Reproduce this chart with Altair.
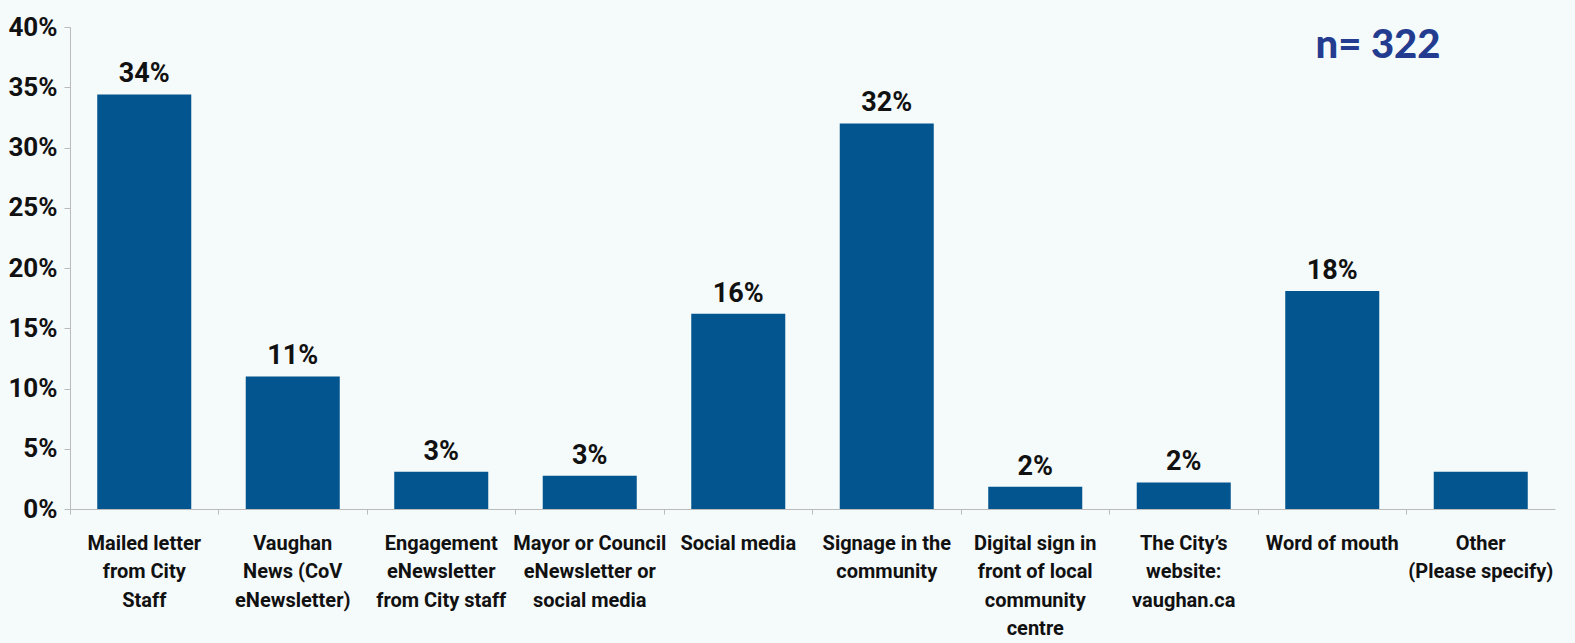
import altair as alt
import pandas as pd

categories = [
    "Mailed letter\nfrom City\nStaff",
    "Vaughan\nNews (CoV\neNewsletter)",
    "Engagement\neNewsletter\nfrom City staff",
    "Mayor or Council\neNewsletter or\nsocial media",
    "Social media",
    "Signage in the\ncommunity",
    "Digital sign in\nfront of local\ncommunity\ncentre",
    "The City\u2019s\nwebsite:\nvaughan.ca",
    "Word of mouth",
    "Other\n(Please specify)",
]
values = [34.4, 11.0, 3.1, 2.75, 16.2, 32.0, 1.85, 2.2, 18.1, 3.1]
value_labels = ["34%", "11%", "3%", "3%", "16%", "32%", "2%", "2%", "18%", ""]
y_ticks = [0, 5, 10, 15, 20, 25, 30, 35, 40]

df = pd.DataFrame({"cat": categories, "val": values, "lab": value_labels})

FONT = "Roboto"
BAR = "#02558F"
BG = "#F5FAFB"

x = alt.X(
    "cat:N",
    sort=categories,
    scale=alt.Scale(paddingInner=0, paddingOuter=0),
    axis=alt.Axis(
        title=None,
        labelAngle=0,
        labelExpr="split(datum.label, '\\n')",
        labelFont=FONT,
        labelFontSize=20,
        labelFontWeight="bold",
        labelColor="#111111",
        labelLineHeight=28.5,
        labelPadding=19,
        labelBaseline="top",
        bandPosition=0,
        tickSize=5,
        tickColor="#BBBBBB",
        domainColor="#BBBBBB",
        labelLimit=300,
    ),
)

y = alt.Y(
    "val:Q",
    scale=alt.Scale(domain=[0, 40], nice=False),
    axis=alt.Axis(
        title=None,
        values=y_ticks,
        labelExpr="datum.value + '%'",
        labelFont=FONT,
        labelFontSize=26,
        labelFontWeight="bold",
        labelColor="#111111",
        labelPadding=7,
        tickSize=6,
        tickColor="#BBBBBB",
        domainColor="#BBBBBB",
        grid=False,
    ),
)

bars = alt.Chart(df).mark_bar(color=BAR, width=alt.RelativeBandSize(0.633)).encode(x=x, y=y)

texts = alt.Chart(df).mark_text(
    font=FONT, fontSize=27, fontWeight="bold", color="#111111", baseline="bottom", dy=-6
).encode(x=alt.X("cat:N", sort=categories), y="val:Q", text="lab:N")

n_text = alt.Chart(pd.DataFrame({"t": ["n= 322"]})).mark_text(
    font="Lato", fontSize=40, fontWeight=900, color="#233C8F", align="center", baseline="middle"
).encode(x=alt.value(1308), y=alt.value(19), text="t:N")

chart = (
    alt.layer(bars, texts, n_text)
    .properties(
        width=1485,
        height=482,
        autosize=alt.AutoSizeParams(type="none"),
        padding={"left": 70, "top": 27, "right": 20, "bottom": 134},
        background=BG,
    )
    .configure_view(stroke=None)
)

chart.save("out.html", embed_options={"renderer": "svg", "actions": False})
